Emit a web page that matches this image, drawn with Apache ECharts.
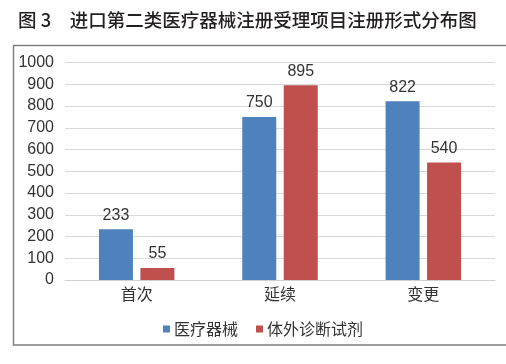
<!DOCTYPE html>
<html>
<head>
<meta charset="utf-8">
<script src="https://cdn.jsdelivr.net/npm/echarts@6/dist/echarts.min.js"></script>
<style>
html,body{margin:0;padding:0;background:#fff;}
#c{width:506px;height:364px;}
</style>
</head>
<body>
<div id="c"></div>
<script>
const titleText = '图 3\u3000进口第二类医疗器械注册受理项目注册形式分布图';
const categories = ['首次', '延续', '变更'];
const seriesNames = ['医疗器械', '体外诊断试剂'];
const deviceValues = [233, 750, 822];
const ivdValues = [55, 895, 540];
const yMin = 0, yMax = 1000, yStep = 100;

const FONT = '"Noto Sans CJK SC", "Noto Sans", sans-serif';
const NUMFONT = '"Liberation Sans", "Noto Sans CJK SC", sans-serif';
const chart = echarts.init(document.getElementById('c'), null, {renderer: 'canvas'});
chart.setOption({
  animation: false,
  backgroundColor: '#fff',
  title: {
    text: titleText,
    left: 13, top: 6,
    textStyle: {fontFamily: FONT, fontSize: 18.5, fontWeight: 500, color: '#231f20'}
  },
  graphic: [{
    type: 'rect', silent: true,
    shape: {x: 13.5, y: 45.5, width: 520, height: 299.5},
    style: {fill: 'none', stroke: '#7f7f7f', lineWidth: 1.5}
  }],
  legend: {
    left: 158, top: 316,
    itemWidth: 7, itemHeight: 7, itemGap: 18,
    icon: 'rect',
    textStyle: {fontFamily: FONT, fontSize: 16, color: '#333', padding: [0, 0, 0, -1]},
    data: seriesNames
  },
  grid: {left: 65, right: 11, top: 62.5, bottom: 84, containLabel: false},
  xAxis: {
    type: 'category', data: categories,
    axisLine: {lineStyle: {color: '#d0d0d0'}},
    axisTick: {show: false},
    axisLabel: {fontFamily: FONT, fontSize: 16, color: '#333', margin: 6}
  },
  yAxis: {
    type: 'value', min: yMin, max: yMax, interval: yStep,
    axisLine: {show: false}, axisTick: {show: false},
    splitLine: {lineStyle: {color: '#d9d9d9'}},
    axisLabel: {fontFamily: NUMFONT, fontSize: 16, color: '#333', margin: 11,
                formatter: v => String(v)}
  },
  series: [
    {name: seriesNames[0], type: 'bar', data: deviceValues, barWidth: 34, barGap: '22%',
     itemStyle: {color: '#4F81BD'},
     label: {show: true, position: 'top', distance: 6, fontFamily: NUMFONT, fontSize: 16, color: '#333'}},
    {name: seriesNames[1], type: 'bar', data: ivdValues, barWidth: 34,
     itemStyle: {color: '#C0504D'},
     label: {show: true, position: 'top', distance: 6, fontFamily: NUMFONT, fontSize: 16, color: '#333'}}
  ]
});
</script>
</body>
</html>
